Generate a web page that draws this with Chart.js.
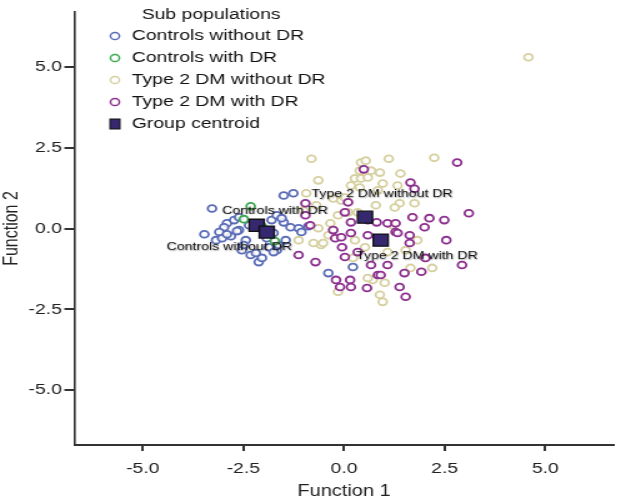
<!DOCTYPE html>
<html>
<head>
<meta charset="utf-8">
<script src="https://cdn.jsdelivr.net/npm/chart.js@4.4.0/dist/chart.umd.min.js"></script>
<style>
  html, body { margin: 0; padding: 0; background: #fff; overflow: hidden; }
  /* the source picture is stretched sideways, so draw narrow and stretch it */
  #wrap { width: 501px; height: 501px; transform: scaleX(1.2495); transform-origin: 0 0; }
</style>
</head>
<body>
<div id="wrap"><canvas id="chart" width="501" height="501"></canvas></div>
<script>
var groupNames = ['Controls without DR', 'Controls with DR', 'Type 2 DM without DR', 'Type 2 DM with DR'];
var groupColors = ['#5a6cb6', '#3da84f', '#d6d0a0', '#8c2f8e'];

var controlsNoDR = [
  [-3.28,0.62],[-1.50,1.02],[-1.26,1.09],[-2.91,0.16],[-2.73,0.26],[-2.98,0.04],[-3.10,-0.11],
  [-3.18,-0.36],[-3.03,-0.30],[-2.81,-0.24],[-2.61,-0.05],[-2.44,-0.36],[-2.54,-0.67],[-2.32,-0.82],
  [-2.12,-1.04],[-1.75,-0.14],[-1.50,0.19],[-1.33,0.04],[-1.13,0.01],[-1.06,-0.11],[-1.80,0.26],
  [-1.67,0.41],[-1.87,-0.58],[-1.67,-0.67],[-2.61,0.35],[-2.91,-0.18],[-2.66,-0.08],[-2.49,-0.51],
  [-2.19,-0.76],[-1.63,-0.51],[-1.45,-0.36],[-0.89,0.07],[-1.55,0.32],[0.22,-1.19],[-0.39,-1.38],
  [-3.47,-0.18],[-2.07,0.01],[-1.92,-0.30],[-2.36,0.10],[-2.04,-0.91],[-1.75,-0.73]
];
var controlsDR = [
  [-2.32,0.69],[-2.49,0.29],[-1.72,-0.39],[-2.04,0.07]
];
var t2dmNoDR = [
  [-0.81,2.16],[1.11,2.16],[2.24,2.19],[0.42,2.04],[0.54,2.10],[0.39,1.79],[0.67,1.79],[0.89,1.73],
  [1.40,1.70],[0.27,1.55],[0.42,1.55],[0.59,1.58],[0.17,1.33],[0.39,1.27],[1.33,1.33],[-0.64,1.49],
  [-0.27,0.93],[-0.07,0.87],[1.38,0.78],[1.26,0.65],[1.75,0.78],[-0.15,0.41],[0.10,0.50],[-0.34,0.16],
  [-0.64,0.01],[-0.39,-0.21],[-0.76,-0.45],[-0.57,-0.51],[0.27,-0.36],[0.52,-0.58],[1.08,-0.73],
  [1.82,-0.36],[2.19,-1.22],[1.65,-1.22],[-0.15,-1.96],[1.01,-1.68],[0.89,-2.05],[0.96,-2.27],
  [-0.52,-0.45],[-0.27,-0.05],[0.71,-1.59],[0.59,-1.53],[-0.94,1.09],[-0.69,0.72],[-1.01,0.56],
  [-1.13,-0.36],[0.96,1.39],[0.84,1.18],[0.02,0.96],[0.34,0.50],[0.79,0.72],[1.21,0.10],[1.53,-0.67],
  [0.22,-0.91],[4.58,5.30]
];
var t2dmDR = [
  [2.81,2.04],[0.49,1.83],[1.65,1.42],[1.75,1.23],[3.10,0.47],[0.10,0.81],[-0.96,0.78],[-0.96,0.41],
  [-0.84,0.10],[0.02,0.50],[0.17,0.19],[0.59,0.26],[0.81,0.19],[1.08,0.16],[1.28,0.16],[1.70,0.35],
  [2.12,0.32],[2.49,0.26],[2.00,0.04],[2.54,-0.36],[1.63,-0.21],[1.28,-0.11],[-0.27,-0.05],[-0.22,-0.30],
  [-0.07,-0.27],[0.17,-0.14],[0.59,-0.21],[1.33,-0.14],[1.63,-0.45],[-0.05,-0.58],[0.02,-0.88],
  [0.34,-0.73],[0.67,-1.13],[1.08,-1.13],[1.50,-1.38],[1.92,-1.34],[2.93,-1.13],[2.02,-0.91],
  [-0.71,-1.04],[-1.13,-0.82],[-0.20,-1.59],[0.15,-1.59],[-0.10,-1.81],[0.17,-1.81],[0.84,-1.44],
  [0.91,-1.44],[1.38,-1.81],[1.53,-2.11],[0.57,-1.84]
];
var centroids = [[-2.17,0.10],[-1.92,-0.11],[0.52,0.35],[0.91,-0.36]];

// text written next to the centroids, with the data point where each text starts
var centroidLabels = ['Controls with DR', 'Controls without DR', 'Type 2 DM without DR', 'Type 2 DM with DR'];
var labelAnchors = [[-3.03,0.56],[-4.41,-0.58],[-0.81,1.06],[0.30,-0.85]];

var tickValues = [-5, -2.5, 0, 2.5, 5];
var axisMin = -6.7, axisMax = 6.7;

function toPoints(arr) {
  return arr.map(function (p) { return { x: p[0], y: p[1] }; });
}

var groups = [controlsNoDR, controlsDR, t2dmNoDR, t2dmDR];
var drawOrder = [4, 1, 3, 2];
var datasets = groups.map(function (g, i) {
  return {
    label: groupNames[i],
    data: toPoints(g),
    pointStyle: 'circle',
    pointRadius: 3.4,
    pointBorderWidth: 1.8,
    borderColor: groupColors[i],
    backgroundColor: 'rgba(255,255,255,0.85)',
    order: drawOrder[i]
  };
});
datasets.push({
  label: 'Group centroid',
  data: toPoints(centroids),
  pointStyle: 'rect',
  pointRadius: 8.5,
  pointBorderWidth: 1.3,
  borderColor: '#111',
  backgroundColor: '#35286e',
  order: 0
});

var overlay = {
  id: 'overlay',
  afterDatasetsDraw: function (chart) {
    var ctx = chart.ctx, xs = chart.scales.x, ys = chart.scales.y;
    ctx.save();
    ctx.font = '11.3px "Liberation Sans", Arial, sans-serif';
    ctx.textBaseline = 'middle';
    ctx.textAlign = 'left';
    ctx.fillStyle = '#111';
    ctx.shadowColor = 'rgba(0,0,0,0.4)';
    ctx.shadowBlur = 1.5;
    ctx.shadowOffsetX = 0.6;
    ctx.shadowOffsetY = 0.6;
    for (var i = 0; i < centroidLabels.length; i++) {
      ctx.fillText(centroidLabels[i], xs.getPixelForValue(labelAnchors[i][0]), ys.getPixelForValue(labelAnchors[i][1]));
    }
    ctx.restore();

    // legend box in the top left corner
    ctx.save();
    ctx.font = '15.5px "Liberation Sans", Arial, sans-serif';
    ctx.fillStyle = '#111';
    ctx.textBaseline = 'middle';
    ctx.textAlign = 'center';
    ctx.fillText('Sub populations', 169, 15);
    ctx.textAlign = 'left';
    var rowY = [36, 58, 80, 102, 124];
    for (var j = 0; j < 4; j++) {
      ctx.beginPath();
      ctx.arc(92, rowY[j], 3.6, 0, Math.PI * 2);
      ctx.lineWidth = 1.5;
      ctx.strokeStyle = groupColors[j];
      ctx.stroke();
      ctx.fillStyle = '#111';
      ctx.fillText(groupNames[j], 105.5, rowY[j]);
    }
    ctx.fillStyle = '#35286e';
    ctx.strokeStyle = '#111';
    ctx.lineWidth = 1;
    ctx.fillRect(88, rowY[4] - 5, 8, 10);
    ctx.strokeRect(88, rowY[4] - 5, 8, 10);
    ctx.fillStyle = '#111';
    ctx.fillText('Group centroid', 105.5, rowY[4]);
    ctx.restore();
  }
};

Chart.defaults.font.family = '"Liberation Sans", Arial, sans-serif';
Chart.defaults.color = '#222';

new Chart(document.getElementById('chart'), {
  type: 'scatter',
  data: { datasets: datasets },
  options: {
    responsive: false,
    animation: false,
    devicePixelRatio: 1,
    layout: { padding: { top: 12, right: 5.6, left: 0, bottom: 0 } },
    plugins: { legend: { display: false }, tooltip: { enabled: false } },
    scales: {
      x: {
        type: 'linear', min: axisMin, max: axisMax,
        afterBuildTicks: function (s) { s.ticks = tickValues.map(function (v) { return { value: v }; }); },
        afterFit: function (s) { s.height = 56; },
        ticks: { callback: function (v) { return v.toFixed(1); }, font: { size: 15.5 }, color: '#222', padding: 8, maxRotation: 0, autoSkip: false },
        grid: { drawOnChartArea: false, drawTicks: true, tickLength: 6, color: '#333', lineWidth: 2 },
        border: { display: true, color: '#333', width: 2 },
        title: { display: true, text: 'Function 1', font: { size: 16 }, color: '#222', padding: { top: 0, bottom: 0 } }
      },
      y: {
        type: 'linear', min: axisMin, max: axisMax,
        afterBuildTicks: function (s) { s.ticks = tickValues.map(function (v) { return { value: v }; }); },
        afterFit: function (s) { s.width = 59.5; },
        ticks: { callback: function (v) { return v.toFixed(1); }, font: { size: 15.5 }, color: '#222', padding: 2, autoSkip: false },
        grid: { drawOnChartArea: false, drawTicks: true, tickLength: 8, color: '#333', lineWidth: 2 },
        border: { display: true, color: '#333', width: 1.6 },
        title: { display: true, text: 'Function 2', font: { size: 16 }, color: '#222', padding: { top: 0, bottom: 0 } }
      }
    }
  },
  plugins: [overlay]
});
</script>
</body>
</html>
